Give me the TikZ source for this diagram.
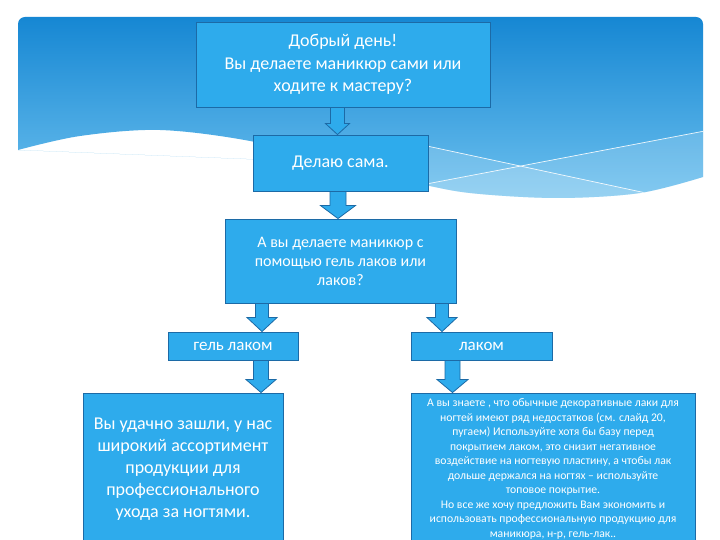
\documentclass[tikz,border=0pt]{standalone}
\usepackage{fontspec}
\setmainfont{Carlito}
\usetikzlibrary{calc}
\definecolor{boxblue}{HTML}{2EABEC}
\definecolor{edgeblue}{HTML}{1C6AA6}
\definecolor{skytop}{HTML}{1687D3}
\definecolor{skybot}{HTML}{6CC0EE}
\newcommand{\DBA}[6]{%
  \path (#3,0) coordinate (dbax);
  \coordinate (dbaS) at (dbax |- #1.south);
  \coordinate (dbaT) at (dbax |- #2.north);
  \draw[barrow] ($(dbaS)+(-#4,0)$) -- ($(dbaT)+(-#4,-#6)$) -- ($(dbaT)+(-#5,-#6)$) -- (dbaT)
     -- ($(dbaT)+(#5,-#6)$) -- ($(dbaT)+(#4,-#6)$) -- ($(dbaS)+(#4,0)$) -- cycle;
}
\begin{document}
\begin{tikzpicture}[x=1pt,y=-1pt,
  box/.style={draw=edgeblue, line width=0.9pt, fill=boxblue, text=white, align=center, inner sep=2pt},
  barrow/.style={draw=edgeblue, line width=0.8pt, fill=boxblue, line join=miter},
  skyline/.style={draw=white, line width=0.7pt, opacity=0.9}]
\useasboundingbox (0,0) rectangle (720,540);
\clip (0,0) rectangle (720,540);
\fill[white] (0,0) rectangle (720,540);
% banner
\path[rounded corners=7pt, top color=skytop, bottom color=skybot]
  (18,150) -- (18,17) -- (703,17) [sharp corners] -- (703,177)
  plot[smooth, tension=0.55] coordinates {(703,177) (640,193) (560,198) (480,194) (430,186) (330,162) (250,141) (160,130) (80,136) (18,150)} -- cycle;
\begin{scope}
  \clip (18,150) -- (18,17) -- (703,17) -- (703,177)
  plot[smooth, tension=0.55] coordinates {(703,177) (640,193) (560,198) (480,194) (430,186) (330,162) (250,141) (160,130) (80,136) (18,150)} -- cycle;
  \fill[white, opacity=0.16] (385,137) -- (660,196) -- (660,220) -- (385,220) -- cycle;
  \fill[white, opacity=0.16] (400,189) -- (710,130) -- (710,220) -- (400,220) -- cycle;
  \draw[skyline] (385,137) -- (660,196);
  \draw[skyline] (400,189) -- (710,130);
\end{scope}
% boxes
\node[box, minimum width=294, minimum height=85, font=\fontsize{18}{22.5}\selectfont] (b1) at (343,64.5)
  {Добрый день!\\Вы делаете маникюр сами или\\ходите к мастеру?};
\node[box, minimum width=175, minimum height=56, font=\fontsize{18}{22}\selectfont] (b2) at (340.5,163) {Делаю сама.};
\node[box, minimum width=231, minimum height=84, font=\fontsize{16}{19}\selectfont] (b3) at (340.5,261)
  {А вы делаете маникюр с\\помощью гель лаков или\\лаков?};
\node[box, minimum width=130, minimum height=28, font=\fontsize{17}{20}\selectfont] (b4) at (233,346) {гель лаком};
\node[box, minimum width=141, minimum height=28, font=\fontsize{17}{20}\selectfont] (b5) at (481.5,346) {лаком};
\node[box, minimum width=200, minimum height=152, font=\fontsize{18}{22}\selectfont] (b6) at (183,469)
  {Вы удачно зашли, у нас\\широкий ассортимент\\продукции для\\профессионального\\ухода за ногтями.};
\node[box, minimum width=284, minimum height=152, inner sep=0pt, font=\fontsize{11.7}{14.5}\selectfont] (b7) at (553,469)
  {А вы знаете , что обычные декоративные лаки для\\ногтей имеют ряд недостатков (см. слайд 20,\\пугаем) Используйте хотя бы базу перед\\покрытием лаком, это снизит негативное\\воздействие на ногтевую пластину, а чтобы лак\\дольше держался на ногтях – используйте\\топовое покрытие.\\Но все же хочу предложить Вам экономить и\\использовать профессиональную продукцию для\\маникюра, н-р, гель-лак..};
% arrows
\DBA{b1}{b2}{337.5}{7}{12}{11}
\DBA{b2}{b3}{338}{8}{17.5}{13}
\DBA{b3}{b4}{262}{6.5}{15}{14}
\DBA{b3}{b5}{442}{6.5}{15}{14}
\DBA{b4}{b6}{261}{7.5}{15}{13}
\DBA{b5}{b7}{452.5}{7.5}{15.5}{13}
\end{tikzpicture}
\end{document}
